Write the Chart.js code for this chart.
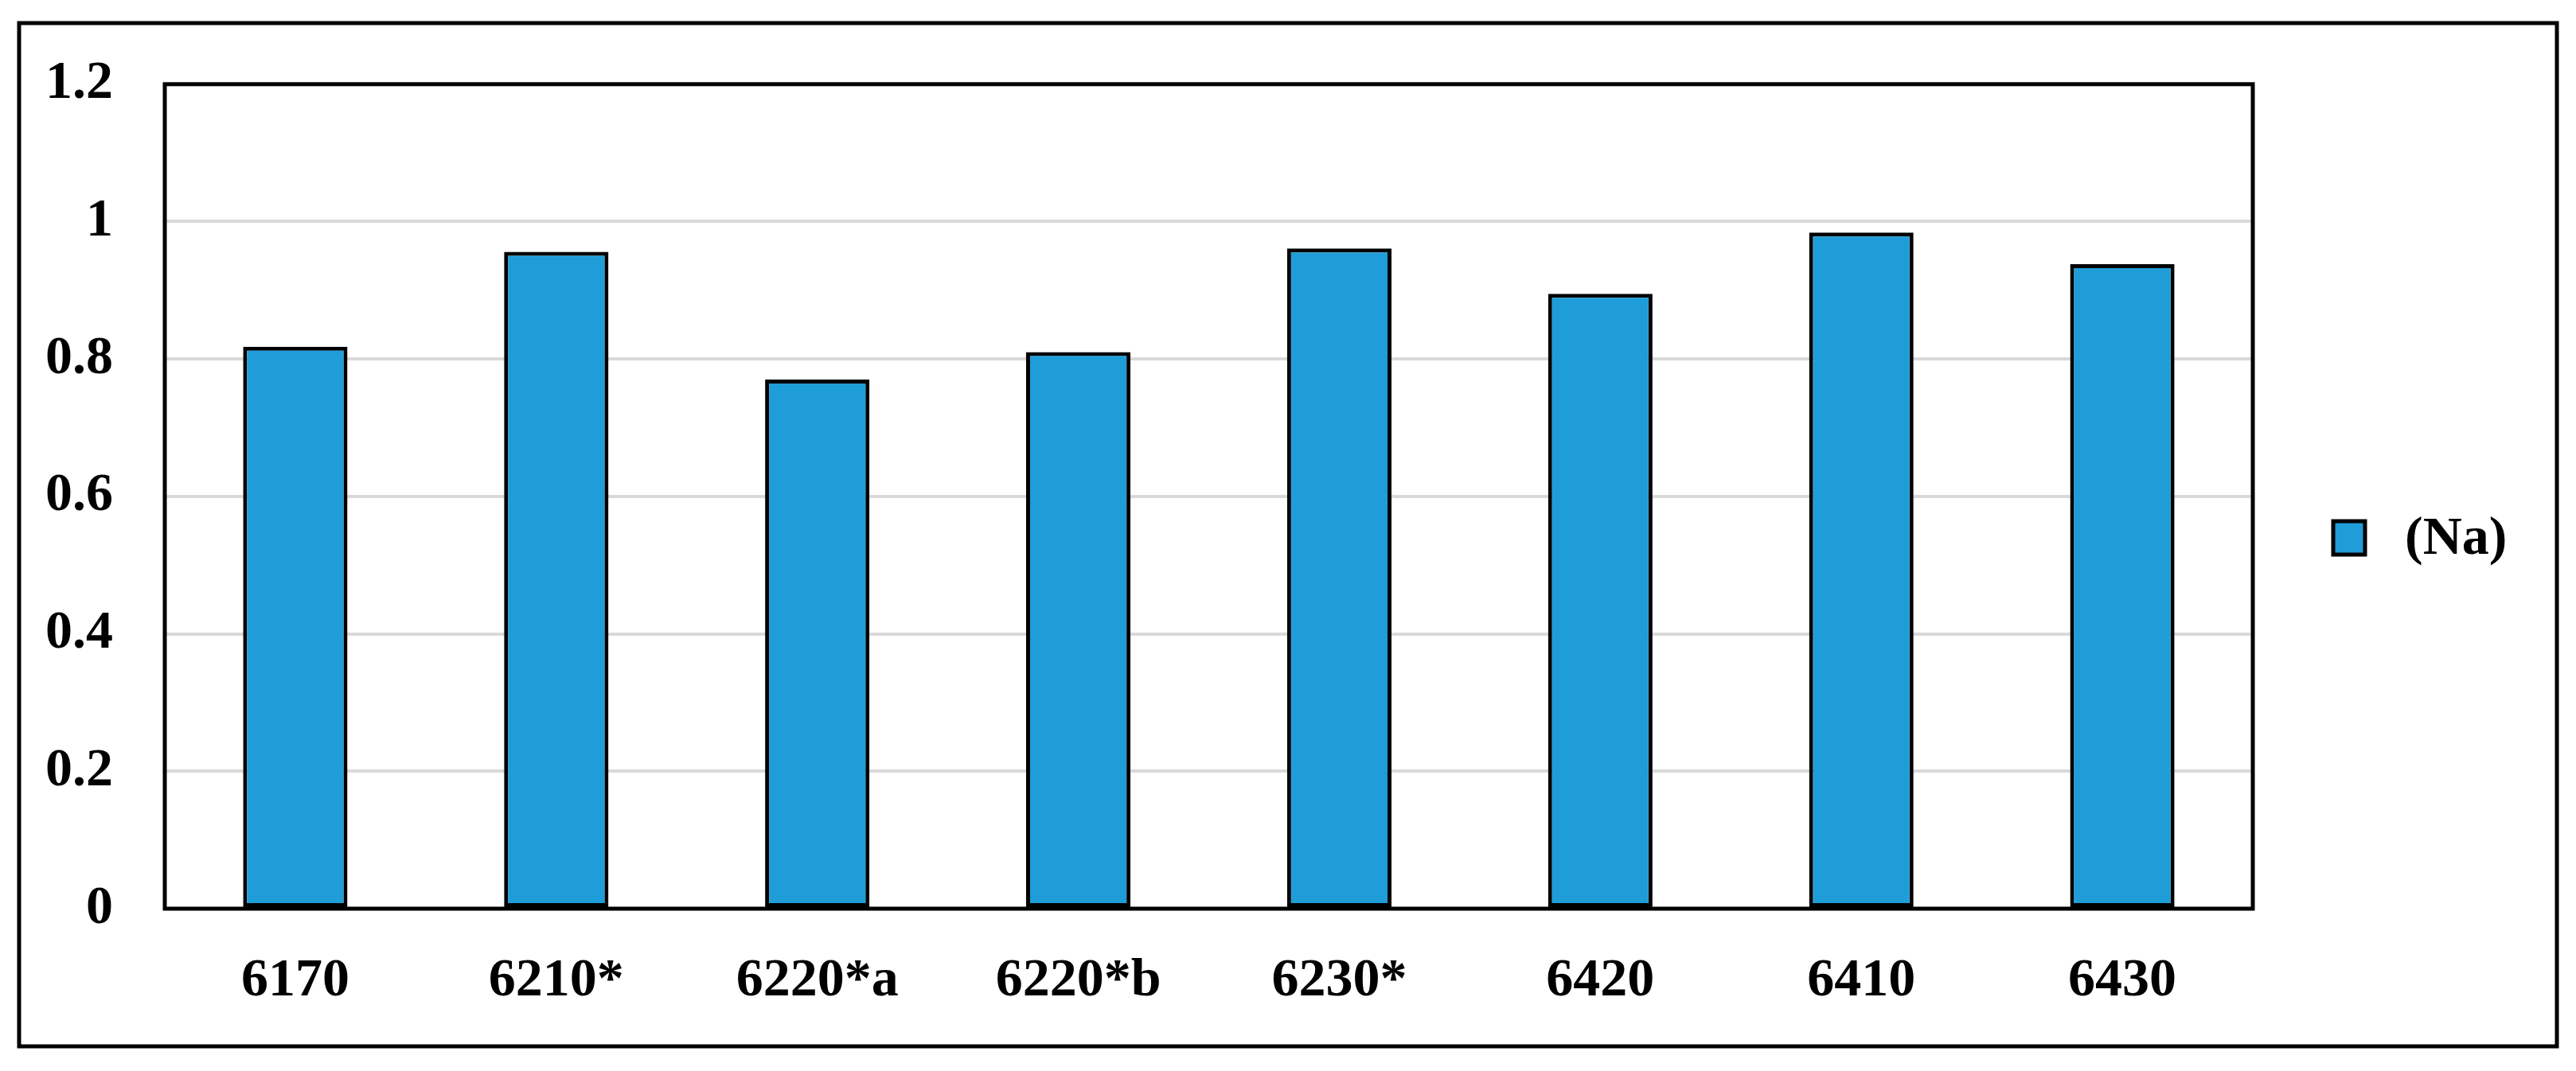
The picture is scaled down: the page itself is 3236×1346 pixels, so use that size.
<!DOCTYPE html>
<html>
<head>
<meta charset="utf-8">
<script src="https://cdn.jsdelivr.net/npm/chart.js@4/dist/chart.umd.min.js"></script>
<style>
  html, body { margin: 0; padding: 0; background: #fff; }
  #wrap { width: 3236px; height: 1346px; }
</style>
</head>
<body>
<div id="wrap"><canvas id="chart" width="3236" height="1346"></canvas></div>
<script>
const categories = ['6170', '6210*', '6220*a', '6220*b', '6230*', '6420', '6410', '6430'];
const naValues = [0.818, 0.956, 0.770, 0.810, 0.961, 0.895, 0.984, 0.938];
const yTicks = [0, 0.2, 0.4, 0.6, 0.8, 1, 1.2];
const seriesName = '(Na)';

const FONT = "'Liberation Serif', 'Times New Roman', serif";
const barColor = '#1e9dd9';

// frame around the plot, the outer box and the legend on the right
const boxesPlugin = {
  id: 'boxes',
  afterDraw(chart) {
    const { ctx, chartArea: a } = chart;
    ctx.save();
    ctx.strokeStyle = '#000';
    ctx.lineWidth = 5;
    ctx.strokeRect(a.left, a.top, a.right - a.left, a.bottom - a.top);
    ctx.lineWidth = 5;
    ctx.strokeRect(24, 29, 3188, 1286);

    // legend
    const ds = chart.data.datasets[0];
    ctx.fillStyle = ds.backgroundColor;
    ctx.fillRect(2931, 655, 40, 42);
    ctx.lineWidth = 5;
    ctx.strokeRect(2931, 655, 40, 42);
    ctx.fillStyle = '#000';
    ctx.font = 'bold 68px ' + FONT;
    ctx.textBaseline = 'middle';
    ctx.textAlign = 'left';
    ctx.fillText(ds.label, 3021, 678);
    ctx.restore();
  }
};

new Chart(document.getElementById('chart'), {
  type: 'bar',
  data: {
    labels: categories,
    datasets: [{
      label: seriesName,
      data: naValues,
      backgroundColor: barColor,
      borderColor: '#000',
      borderWidth: 5,
      borderSkipped: false,
      barPercentage: 0.4,
      categoryPercentage: 1.0
    }]
  },
  options: {
    responsive: false,
    animation: false,
    devicePixelRatio: 1,
    layout: { padding: { left: 0, top: 101, right: 406, bottom: 0 } },
    plugins: {
      legend: { display: false },
      tooltip: { enabled: false }
    },
    scales: {
      x: {
        grid: { display: false, drawTicks: false },
        border: { display: false },
        ticks: {
          color: '#000',
          font: { family: FONT, size: 68, weight: 'bold' },
          padding: 51,
          maxRotation: 0
        },
        afterFit(scale) { scale.height = 204; }
      },
      y: {
        min: 0,
        max: 1.2,
        afterBuildTicks(scale) { scale.ticks = yTicks.map(v => ({ value: v })); },
        grid: { color: '#d9d9d9', lineWidth: 4, drawTicks: false },
        border: { display: false },
        ticks: {
          color: '#000',
          font: { family: FONT, size: 68, weight: 'bold' },
          padding: 65,
          callback: v => String(v)
        },
        afterFit(scale) { scale.width = 207; }
      }
    }
  },
  plugins: [boxesPlugin]
});
</script>
</body>
</html>
